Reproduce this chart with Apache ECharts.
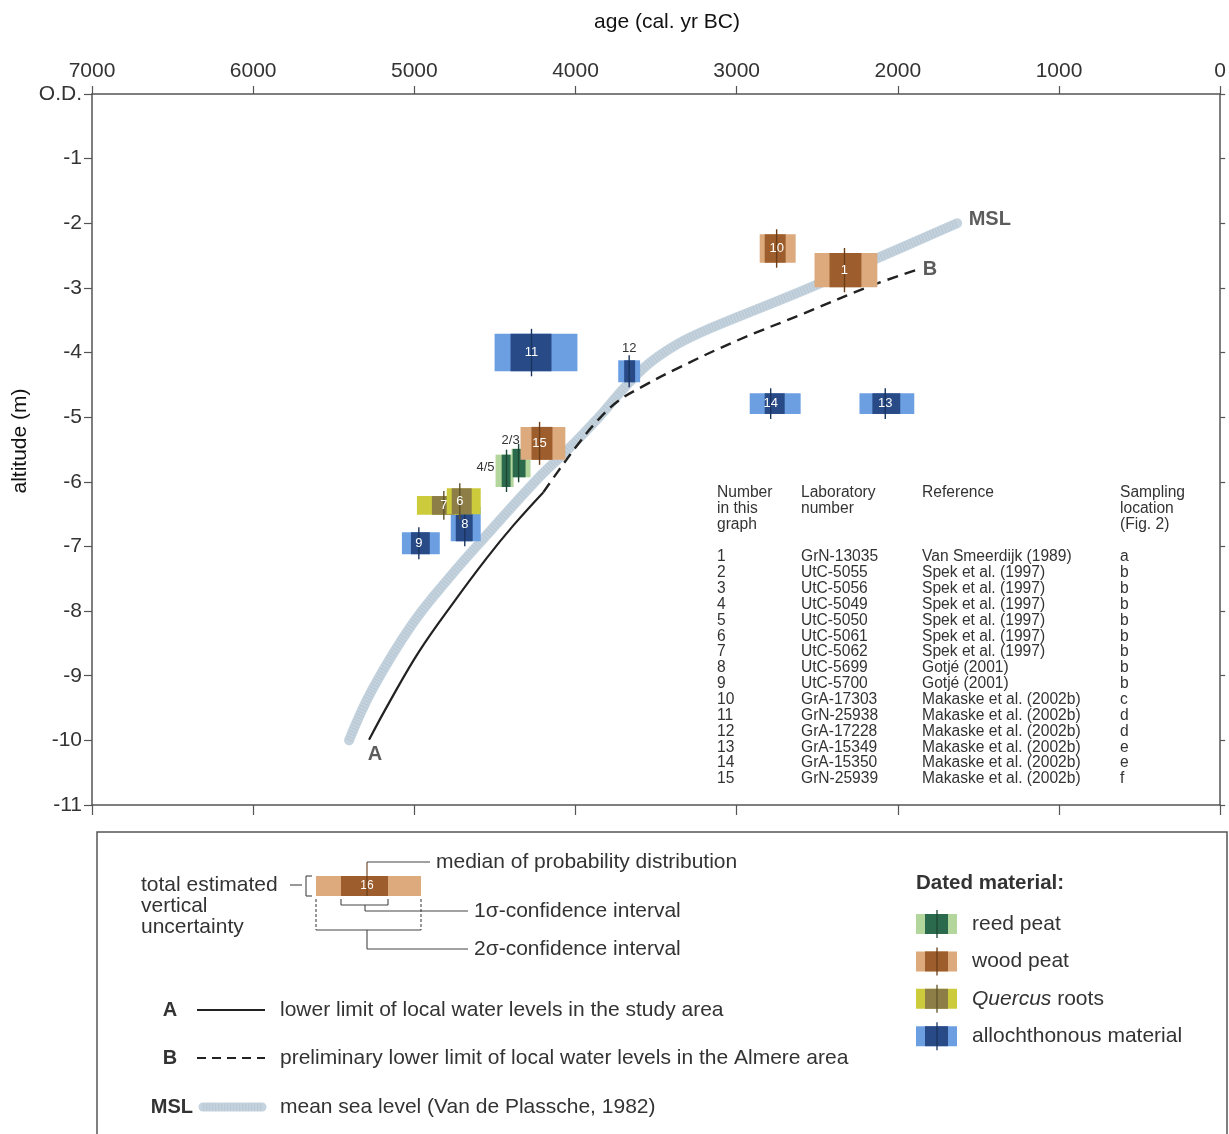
<!DOCTYPE html>
<html>
<head>
<meta charset="utf-8">
<script src="https://cdn.jsdelivr.net/npm/echarts@6/dist/echarts.min.js"></script>
<style>
  html, body { margin: 0; padding: 0; background: #ffffff; }
  #chart { width: 1229px; height: 1134px; }
</style>
</head>
<body>
<div id="chart"></div>
<script>
// ---- Curves (age in cal. yr BC, altitude in m O.D.) ----
const mslAge = [5405, 5262, 5015, 4786, 4539, 4230, 4063, 3859, 3692, 3549, 3395, 3240, 2993, 2578, 2127, 1632];
const mslAlt = [-10.0, -9.22, -8.21, -7.49, -6.79, -5.94, -5.54, -5.01, -4.53, -4.18, -3.91, -3.71, -3.45, -3.03, -2.54, -2.00];

const lineAAge = [5281, 5157, 4972, 4755, 4551, 4384, 4199];
const lineAAlt = [-9.99, -9.42, -8.63, -7.86, -7.18, -6.67, -6.16];

const lineBAge = [4199, 4106, 3982, 3859, 3735, 3580, 3364, 2993, 2578, 2170, 1880];
const lineBAlt = [-6.16, -5.83, -5.41, -5.04, -4.75, -4.52, -4.24, -3.81, -3.39, -2.97, -2.72];

// ---- Dated samples (drawing order: back to front) ----
const sampleIds      = ['8', '9', '7', '6', '4/5', '2/3', '15', '11', '12', '10', '1', '14', '13'];
const sampleMaterial = ['allo', 'allo', 'quercus', 'quercus', 'reed', 'reed', 'wood', 'allo', 'allo', 'wood', 'wood', 'allo', 'allo'];
const age2sOld       = [4774, 5077, 4984, 4799, 4496, 4397, 4341, 4502, 3735, 2857, 2517, 2919, 2238];
const age2sYoung     = [4588, 4842, 4724, 4588, 4384, 4279, 4063, 3988, 3599, 2634, 2127, 2603, 1898];
const age1sOld       = [4743, 5021, 4891, 4768, 4458, 4390, 4273, 4403, 3698, 2826, 2424, 2826, 2158];
const age1sYoung     = [4638, 4904, 4749, 4644, 4403, 4310, 4143, 4149, 3630, 2696, 2226, 2702, 1985];
const ageMedian      = [4687, 4972, 4817, 4718, 4428, 4353, 4223, 4273, 3667, 2752, 2331, 2789, 2078];
const altTop         = [-6.39, -6.78, -6.22, -6.10, -5.58, -5.49, -5.15, -3.71, -4.12, -2.17, -2.46, -4.63, -4.63];
const altBottom      = [-6.92, -7.12, -6.51, -6.50, -6.08, -5.93, -5.66, -4.29, -4.46, -2.61, -2.99, -4.95, -4.95];

// ---- Axis ticks ----
const ageTicks = [0, 1000, 2000, 3000, 4000, 5000, 6000, 7000];
const altTicks = [0, -1, -2, -3, -4, -5, -6, -7, -8, -9, -10, -11];

// ---- Table of dates ----
const tableNumbers = ['1', '2', '3', '4', '5', '6', '7', '8', '9', '10', '11', '12', '13', '14', '15'];
const tableLabNumbers = ['GrN-13035', 'UtC-5055', 'UtC-5056', 'UtC-5049', 'UtC-5050', 'UtC-5061', 'UtC-5062',
  'UtC-5699', 'UtC-5700', 'GrA-17303', 'GrN-25938', 'GrA-17228', 'GrA-15349', 'GrA-15350', 'GrN-25939'];
const tableReferences = ['Van Smeerdijk (1989)', 'Spek et al. (1997)', 'Spek et al. (1997)', 'Spek et al. (1997)',
  'Spek et al. (1997)', 'Spek et al. (1997)', 'Spek et al. (1997)', 'Gotjé (2001)', 'Gotjé (2001)',
  'Makaske et al. (2002b)', 'Makaske et al. (2002b)', 'Makaske et al. (2002b)', 'Makaske et al. (2002b)',
  'Makaske et al. (2002b)', 'Makaske et al. (2002b)'];
const tableLocations = ['a', 'b', 'b', 'b', 'b', 'b', 'b', 'b', 'b', 'c', 'd', 'd', 'e', 'e', 'f'];

// ---- Styling ----
const FONT = '"Liberation Sans", Arial, Helvetica, sans-serif';
const INK = '#333333';
const MSL_COLOR = '#c4d3de';
const materialColors = {
  reed:    { light: '#b2d69b', dark: '#2b6a4d', line: '#1c4632' },
  wood:    { light: '#dcaa7d', dark: '#9d5d2c', line: '#6a3c18' },
  quercus: { light: '#cbcb3c', dark: '#8d7d46', line: '#5e5229' },
  allo:    { light: '#6c9fe2', dark: '#284a87', line: '#1b335f' }
};
// labels drawn beside their box instead of inside it
const outsideLabels = { '12': 'top', '2/3': 'topLeft', '4/5': 'left' };

const sampleData = sampleIds.map((id, i) => [
  age2sOld[i], age2sYoung[i], age1sOld[i], age1sYoung[i], ageMedian[i], altTop[i], altBottom[i], i
]);

function renderSample(params, api) {
  const i = api.value(7);
  const c = materialColors[sampleMaterial[i]];
  const id = sampleIds[i];
  const a = api.coord([api.value(0), api.value(5)]);
  const b = api.coord([api.value(1), api.value(6)]);
  const a1 = api.coord([api.value(2), api.value(5)]);
  const b1 = api.coord([api.value(3), api.value(6)]);
  const m = api.coord([api.value(4), api.value(5)]);
  const x0 = Math.min(a[0], b[0]), x1 = Math.max(a[0], b[0]);
  const ix0 = Math.min(a1[0], b1[0]), ix1 = Math.max(a1[0], b1[0]);
  const y0 = Math.min(a[1], b[1]), y1 = Math.max(a[1], b[1]);
  const children = [
    { type: 'rect', shape: { x: x0, y: y0, width: x1 - x0, height: y1 - y0 }, style: { fill: c.light } },
    { type: 'rect', shape: { x: ix0, y: y0, width: ix1 - ix0, height: y1 - y0 }, style: { fill: c.dark } },
    { type: 'line', shape: { x1: m[0], y1: y0 - 5, x2: m[0], y2: y1 + 5 }, style: { stroke: c.line, lineWidth: 1.4 } }
  ];
  const place = outsideLabels[id];
  let tx = m[0], ty = (y0 + y1) / 2, align = 'center', fill = '#ffffff';
  if (place === 'top') { ty = y0 - 12; fill = INK; }
  else if (place === 'topLeft') { tx = m[0] + 1; ty = y0 - 8; align = 'right'; fill = INK; }
  else if (place === 'left') { tx = x0 - 1; ty = (y0 + y1) / 2 - 3; align = 'right'; fill = INK; }
  children.push({
    type: 'text',
    style: { text: id, x: tx, y: ty, align: align, verticalAlign: 'middle', fill: fill, font: '13px ' + FONT }
  });
  return { type: 'group', children: children };
}

// ---- Graphic elements: axis titles, table and key ----
const graphics = [];
function txt(text, x, y, opts) {
  opts = opts || {};
  const el = { type: 'text', silent: true };
  if (opts.rotation !== undefined) { el.rotation = opts.rotation; el.x = x; el.y = y; delete opts.rotation; x = 0; y = 0; }
  el.style = Object.assign({
    text: text, x: x, y: y, fill: INK, font: '21px ' + FONT,
    align: 'left', verticalAlign: 'middle'
  }, opts);
  graphics.push(el);
}
function seg(x1, y1, x2, y2, extra) {
  graphics.push({
    type: 'line', silent: true,
    shape: { x1: x1, y1: y1, x2: x2, y2: y2 },
    style: Object.assign({ stroke: '#444', lineWidth: 1.1 }, extra || {})
  });
}
function box(x, y, w, h, fill) {
  graphics.push({ type: 'rect', silent: true, shape: { x: x, y: y, width: w, height: h }, style: { fill: fill } });
}

// axis titles
txt('age (cal. yr BC)', 667, 22, { align: 'center', fill: '#111' });
txt('altitude (m)', 20, 441, { align: 'center', fill: '#111', rotation: Math.PI / 2 });

// table inside the plot
const tableFont = '15.6px ' + FONT;
txt('Number\nin this\ngraph', 717, 485, { font: tableFont, lineHeight: 16, verticalAlign: 'top' });
txt('Laboratory\nnumber', 801, 485, { font: tableFont, lineHeight: 16, verticalAlign: 'top' });
txt('Reference', 922, 485, { font: tableFont, lineHeight: 16, verticalAlign: 'top' });
txt('Sampling\nlocation\n(Fig. 2)', 1120, 485, { font: tableFont, lineHeight: 16, verticalAlign: 'top' });
[[tableNumbers, 717], [tableLabNumbers, 801], [tableReferences, 922], [tableLocations, 1120]].forEach(([col, x]) => {
  txt(col.join('\n'), x, 549, { font: tableFont, lineHeight: 15.86, verticalAlign: 'top' });
});

// key frame
graphics.push({ type: 'rect', silent: true, shape: { x: 97, y: 832, width: 1130, height: 330 },
  style: { fill: 'none', stroke: '#555', lineWidth: 1.5 } });

// explanation of a sample box
txt('total estimated', 141, 885);
txt('vertical', 141, 906);
txt('uncertainty', 141, 927);
seg(290, 885, 302, 885);
seg(306, 876, 306, 896);
seg(306, 876, 312, 876);
seg(306, 896, 312, 896);
box(316, 876, 105, 20, materialColors.wood.light);
box(341, 876, 47, 20, materialColors.wood.dark);
txt('16', 367, 886, { font: '12px ' + FONT, fill: '#ffffff', align: 'center' });
seg(367, 862, 367, 876, { stroke: materialColors.wood.line });
seg(367, 876, 367, 896, { stroke: materialColors.wood.line });
seg(367, 862, 430, 862);
txt('median of probability distribution', 436, 862);
seg(341, 899, 341, 905); seg(388, 899, 388, 905); seg(341, 905, 388, 905);
seg(365, 905, 365, 911); seg(365, 911, 468, 911);
txt('1\u03c3-confidence interval', 474, 911);
seg(316, 899, 316, 930, { lineDash: [3, 2] }); seg(421, 899, 421, 930, { lineDash: [3, 2] });
seg(316, 930, 421, 930);
seg(367, 930, 367, 949); seg(367, 949, 468, 949);
txt('2\u03c3-confidence interval', 474, 949);

// lines of the key
txt('A', 170, 1010, { font: 'bold 20px ' + FONT, align: 'center' });
seg(197, 1010, 265, 1010, { stroke: '#222', lineWidth: 2 });
txt('lower limit of local water levels in the study area', 280, 1010);
txt('B', 170, 1058, { font: 'bold 20px ' + FONT, align: 'center' });
seg(197, 1058, 265, 1058, { stroke: '#222', lineWidth: 2.2, lineDash: [9, 6] });
txt('preliminary lower limit of local water levels in the Almere area', 280, 1058);
txt('MSL', 193, 1107, { font: 'bold 20px ' + FONT, align: 'right' });
seg(203, 1107, 262, 1107, { stroke: MSL_COLOR, lineWidth: 9, lineCap: 'round' });
seg(203, 1107, 262, 1107, { stroke: '#aebfcc', lineWidth: 7, lineDash: [1.2, 1.8], opacity: 0.55 });
txt('mean sea level (Van de Plassche, 1982)', 280, 1107);

// dated material key
txt('Dated material:', 916, 883, { font: 'bold 20.5px ' + FONT });
const keyMaterials = [['reed', 'reed peat'], ['wood', 'wood peat'], ['quercus', '{i|Quercus} roots'], ['allo', 'allochthonous material']];
keyMaterials.forEach(([mat, label], k) => {
  const cy = 924 + k * 37.4;
  const c = materialColors[mat];
  box(916, cy - 10, 41, 20, c.light);
  box(925, cy - 10, 23, 20, c.dark);
  seg(937, cy - 14, 937, cy + 14, { stroke: c.line, lineWidth: 1.3 });
  graphics.push({
    type: 'text', silent: true,
    style: {
      text: label, x: 972, y: cy, fill: INK, font: '21px ' + FONT, verticalAlign: 'middle',
      rich: { i: { fontStyle: 'italic', fontSize: 21, fontFamily: FONT, fill: INK } }
    }
  });
});

// ---- Chart ----
const chart = echarts.init(document.getElementById('chart'), null, { renderer: 'canvas' });

const axisLineStyle = { color: '#555', width: 1.5 };
const tickStyle = { color: '#555', width: 1.2 };
const mslPoints = mslAge.map((a, i) => [a, mslAlt[i]]);
const option = {
  animation: false,
  backgroundColor: '#ffffff',
  textStyle: { fontFamily: FONT },
  grid: { left: 92, top: 94, right: 3, bottom: 329, containLabel: false },
  xAxis: [
    {
      type: 'value', position: 'top', min: ageTicks[0], max: ageTicks[ageTicks.length - 1], interval: 1000, inverse: true,
      axisLine: { show: true, onZero: false, lineStyle: axisLineStyle },
      axisTick: { show: true, length: 8, lineStyle: tickStyle },
      axisLabel: { fontSize: 21, color: INK, margin: 12, fontFamily: FONT, formatter: v => String(v) },
      splitLine: { show: false }
    },
    {
      type: 'value', position: 'bottom', min: ageTicks[0], max: ageTicks[ageTicks.length - 1], interval: 1000, inverse: true,
      axisLine: { show: true, onZero: false, lineStyle: axisLineStyle },
      axisTick: { show: true, length: 10, lineStyle: tickStyle },
      axisLabel: { show: false },
      splitLine: { show: false }
    }
  ],
  yAxis: [
    {
      type: 'value', position: 'left', min: altTicks[altTicks.length - 1], max: altTicks[0], interval: 1,
      axisLine: { show: true, onZero: false, lineStyle: axisLineStyle },
      axisTick: { show: true, length: 8, lineStyle: tickStyle },
      axisLabel: { fontSize: 21, color: INK, margin: 10, fontFamily: FONT,
        formatter: v => (v === 0 ? 'O.D.' : String(v)) },
      splitLine: { show: false }
    },
    {
      type: 'value', position: 'right', min: altTicks[altTicks.length - 1], max: altTicks[0], interval: 1,
      axisLine: { show: true, onZero: false, lineStyle: axisLineStyle },
      axisTick: { show: true, length: 5, lineStyle: tickStyle },
      axisLabel: { show: false },
      splitLine: { show: false }
    }
  ],
  series: [
    {
      name: 'MSL', type: 'line', smooth: 0.4, showSymbol: false, silent: true,
      data: mslPoints,
      lineStyle: { color: MSL_COLOR, width: 10, cap: 'round', join: 'round' },
      z: 2
    },
    {
      name: 'MSL hatching', type: 'line', smooth: 0.4, showSymbol: false, silent: true,
      data: mslPoints,
      lineStyle: { color: '#aebfcc', width: 8, type: [1.2, 1.8], opacity: 0.55 },
      z: 2
    },
    {
      name: 'A', type: 'line', smooth: 0.4, showSymbol: false, silent: true,
      data: lineAAge.map((a, i) => [a, lineAAlt[i]]),
      lineStyle: { color: '#222', width: 2.2 },
      z: 3
    },
    {
      name: 'B', type: 'line', smooth: 0.4, showSymbol: false, silent: true,
      data: lineBAge.map((a, i) => [a, lineBAlt[i]]),
      lineStyle: { color: '#222', width: 2.4, type: [11, 7] },
      z: 3
    },
    {
      name: 'curve labels', type: 'scatter', symbolSize: 1, silent: true,
      itemStyle: { color: 'rgba(0,0,0,0)' },
      label: { show: true, color: INK, fontSize: 20, fontWeight: 'bold', fontFamily: FONT },
      data: [
        { value: [mslAge[mslAge.length - 1], mslAlt[mslAlt.length - 1]], label: { formatter: 'MSL', position: 'right', distance: 11, offset: [0, -4] } },
        { value: [lineBAge[lineBAge.length - 1], lineBAlt[lineBAlt.length - 1]], label: { formatter: 'B', position: 'right', distance: 5 } },
        { value: [lineAAge[0], lineAAlt[0]], label: { formatter: 'A', position: 'bottom', distance: 4, offset: [6, 0] } }
      ],
      z: 4
    },
    {
      name: 'samples', type: 'custom', silent: true,
      renderItem: renderSample,
      encode: { x: [0, 1, 2, 3, 4], y: [5, 6] },
      data: sampleData,
      z: 5
    }
  ],
  graphic: graphics
};
chart.setOption(option);
</script>
</body>
</html>
